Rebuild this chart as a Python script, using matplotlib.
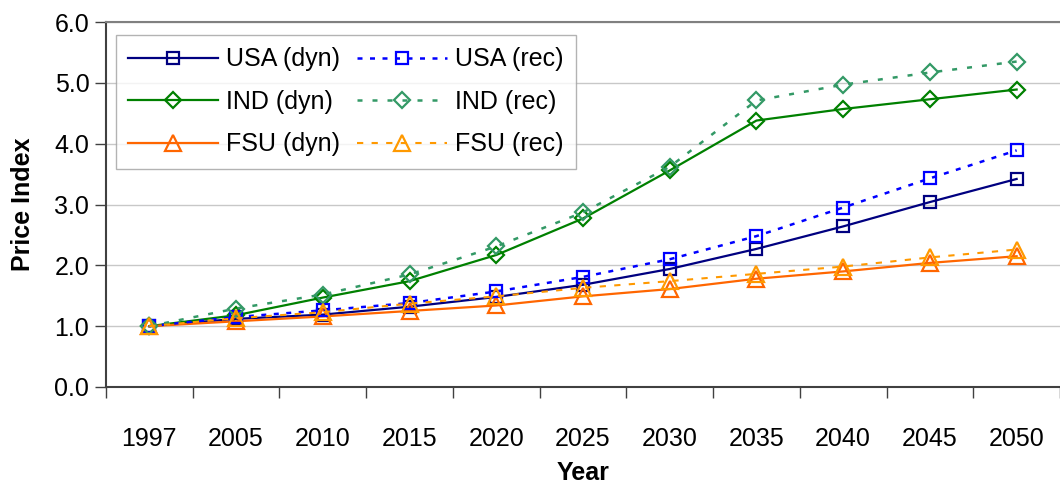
import numpy as np
import matplotlib.pyplot as plt

plt.rcParams['font.family'] = ['Liberation Sans', 'DejaVu Sans']

years = ['1997', '2005', '2010', '2015', '2020', '2025', '2030', '2035', '2040', '2045', '2050']

usa_dyn = [1.00, 1.12, 1.19, 1.32, 1.48, 1.68, 1.94, 2.27, 2.64, 3.04, 3.42]
usa_rec = [1.00, 1.15, 1.26, 1.38, 1.57, 1.81, 2.10, 2.48, 2.95, 3.43, 3.89]
ind_dyn = [1.00, 1.18, 1.47, 1.74, 2.17, 2.77, 3.56, 4.38, 4.57, 4.73, 4.89]
ind_rec = [1.00, 1.29, 1.52, 1.85, 2.31, 2.87, 3.62, 4.71, 4.97, 5.17, 5.35]
fsu_dyn = [1.00, 1.08, 1.16, 1.25, 1.34, 1.49, 1.61, 1.78, 1.90, 2.04, 2.15]
fsu_rec = [1.00, 1.13, 1.23, 1.37, 1.49, 1.63, 1.74, 1.86, 1.98, 2.13, 2.26]

fig = plt.figure(figsize=(10.6, 4.83), dpi=100)
ax = fig.add_axes([106 / 1060, 1 - 387 / 483, 954 / 1060, 365 / 483])

x = np.arange(len(years))
common = dict(markerfacecolor='none', markeredgewidth=1.6)

ax.plot(x, usa_dyn, color='#000080', marker='s', linestyle='-', label='USA (dyn)',
        markersize=9, linewidth=1.6, **common)
ax.plot(x, ind_dyn, color='#008000', marker='D', linestyle='-', label='IND (dyn)',
        markersize=8, linewidth=1.6, **common)
ax.plot(x, fsu_dyn, color='#FF6600', marker='^', linestyle='-', label='FSU (dyn)',
        markersize=11, linewidth=1.6, **common)
ax.plot(x, usa_rec, color='#0000FF', marker='s', linestyle=(0, (2, 3)), label='USA (rec)',
        markersize=9, linewidth=1.8, **common)
ax.plot(x, ind_rec, color='#339966', marker='D', linestyle=(0, (2, 4)), label='IND (rec)',
        markersize=8, linewidth=1.8, **common)
ax.plot(x, fsu_rec, color='#FF9900', marker='^', linestyle=(0, (3, 4)), label='FSU (rec)',
        markersize=11, linewidth=1.5, **common)

ax.set_xlim(-0.5, len(years) - 0.5)
ax.set_ylim(0, 6)
yt = np.arange(0, 6.1, 1.0)
ax.set_yticks(yt)
ax.set_yticklabels(['%.1f' % v for v in yt], fontsize=18)
ax.set_xticks(x)
ax.set_xticklabels(years, fontsize=18)
ax.set_xticks(np.arange(-0.5, len(years), 1.0), minor=True)
ax.tick_params(axis='x', which='major', length=0, pad=29)
ax.tick_params(axis='x', which='minor', length=8, width=1, color='#404040')
ax.tick_params(axis='y', length=8, width=1, color='#404040', pad=4)

ax.grid(axis='y', color='#c8c8c8', linewidth=1)
ax.set_axisbelow(True)
ax.spines['right'].set_visible(False)
ax.spines['top'].set_color('#808080')
ax.spines['top'].set_linewidth(1.5)
ax.spines['left'].set_color('#404040')
ax.spines['bottom'].set_color('#404040')
ax.spines['left'].set_linewidth(1.5)
ax.spines['bottom'].set_linewidth(1.5)

ax.set_xlabel('Year', fontsize=18, fontweight='bold', labelpad=7)
ax.set_ylabel('Price Index', fontsize=18, fontweight='bold', labelpad=14)

leg = ax.legend(ncol=2, loc='upper left', bbox_to_anchor=(0.01, 0.965), fontsize=18,
                handlelength=3.6, numpoints=1, fancybox=False, frameon=True,
                columnspacing=0.7, labelspacing=0.74, handletextpad=0.3, borderpad=0.5,
                borderaxespad=0)
leg.get_frame().set_edgecolor('#a0a0a0')
leg.get_frame().set_linewidth(1.0)

fig.savefig('out.png', dpi=100)
